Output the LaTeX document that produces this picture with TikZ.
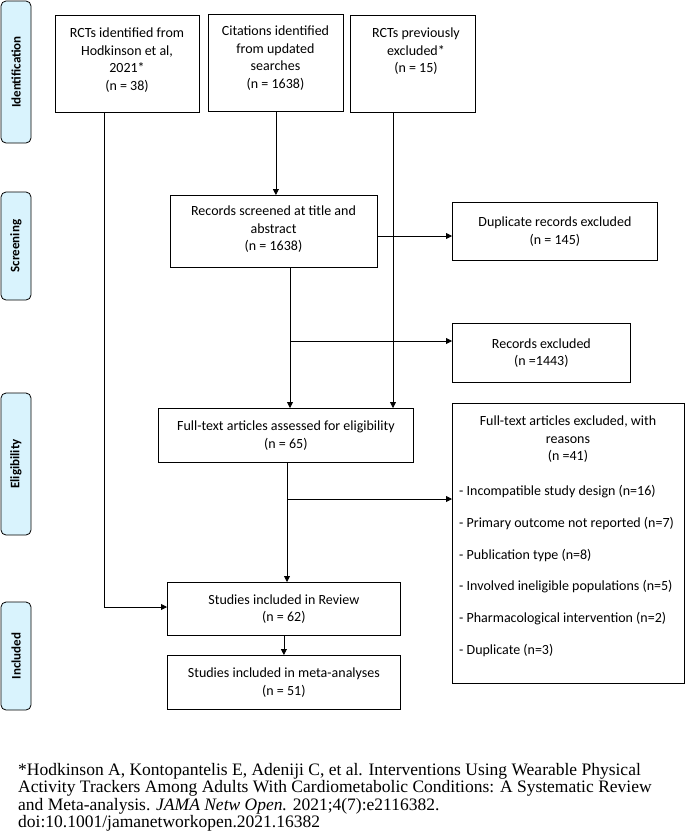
\documentclass[tikz,border=0pt]{standalone}
\usepackage{fontspec}
\setmainfont{Carlito}
\newfontfamily\footfont{Liberation Serif}
\usetikzlibrary{arrows.meta}
\begin{document}
\begin{tikzpicture}[x=1pt,y=-1pt,
  box/.style={draw,line width=0.8pt,align=center,font=\fontsize{14}{17.5}\selectfont,inner sep=0pt},
  tx/.style={align=center,font=\fontsize{14}{17.5}\selectfont,anchor=north,inner sep=0pt},
  stage/.style={draw,line width=0.8pt,fill=cyan!15!white,rounded corners=5pt},
  stt/.style={rotate=90,font=\bfseries\fontsize{13}{15}\selectfont},
  arr/.style={line width=0.8pt,-{Triangle[length=6pt,width=6pt]}},
  ln/.style={line width=0.8pt}]
\useasboundingbox (0,0) rectangle (685,839);
% stages
\draw[stage] (1,1) rectangle (31,143); \node[stt] (s1) at (16,72) {Identification};
\draw[stage] (1,192) rectangle (31,300); \node[stt] (s2) at (16,246) {Screening};
\draw[stage] (1,393) rectangle (31,535); \node[stt] (s3) at (16,464) {Eligibility};
\draw[stage] (1,602) rectangle (31,710); \node[stt] (s4) at (16,656) {Included};
% boxes
\node[box,minimum width=144,minimum height=97,anchor=north west] (a) at (55,15) {};
\node[tx] (ta) at (127,28) {RCTs identified from\\Hodkinson et al,\\2021*\\(n = 38)};
\node[box,minimum width=135,minimum height=97,anchor=north west] (b) at (208,14) {};
\node[tx] (tb) at (275.5,26) {Citations identified\\from updated\\searches\\(n = 1638)};
\node[box,minimum width=125,minimum height=97,anchor=north west] (c) at (350,15) {};
\node[tx] (tc) at (416,28) {RCTs previously\\excluded*\\(n = 15)};
\node[box,minimum width=207,minimum height=72,anchor=north west] (scr) at (170,195) {};
\node[tx] (ts) at (273.5,206) {Records screened at title and\\abstract\\(n = 1638)};
\node[box,minimum width=205,minimum height=58,anchor=north west] (dup) at (452,202) {Duplicate records excluded\\(n = 145)};
\node[box,minimum width=178,minimum height=59,anchor=north west] (rex) at (452,323) {Records excluded\\(n =1443)};
\node[box,minimum width=255,minimum height=54,anchor=north west] (ft) at (158,408) {Full-text articles assessed for eligibility\\(n = 65)};
\node[box,minimum width=232,minimum height=280,anchor=north west] (rs) at (452,403) {};
\node[tx] (tr) at (568,416) {Full-text articles excluded, with\\reasons\\(n =41)};
\node[align=left,font=\fontsize{14}{17.5}\selectfont,anchor=north west,inner sep=0pt] (rl) at (459,485) {- Incompatible study design (n=16)\\[14.3pt]- Primary outcome not reported (n=7)\\[14.3pt]- Publication type (n=8)\\[14.3pt]- Involved ineligible populations (n=5)\\[14.3pt]- Pharmacological intervention (n=2)\\[14.3pt]- Duplicate (n=3)};
\node[box,minimum width=233,minimum height=53,anchor=north west] (rev) at (167,582) {Studies included in Review\\(n = 62)};
\node[box,minimum width=233,minimum height=54,anchor=north west] (meta) at (167,655) {Studies included in meta-analyses\\(n = 51)};
% connectors
\draw[arr] (b.south) -- (b.south |- scr.north);
\draw[arr] (104,112) |- (rev.west |- 0,607);
\draw[arr] (393,112) -- (393,408);
\draw[arr] (377,236) -- (dup.west |- 0,236);
\draw[arr] (290,267) -- (290,408);
\draw[arr] (290,341) -- (rex.west |- 0,341);
\draw[arr] (287,462) -- (287,582);
\draw[arr] (287,499) -- (rs.west |- 0,499);
\draw[arr] (rev.south) -- (meta.north);
% footnote
\node[align=left,anchor=north west,inner sep=0pt,font=\footfont\fontsize{17.5}{17.5}\selectfont] (fn) at (18,763) {*Hodkinson A, Kontopantelis E, Adeniji C, et al. Interventions Using Wearable Physical\\Activity Trackers Among Adults With Cardiometabolic Conditions: A Systematic Review\\and Meta-analysis. \textit{JAMA Netw Open.} 2021;4(7):e2116382.\\doi:10.1001/jamanetworkopen.2021.16382};
\end{tikzpicture}
\end{document}
